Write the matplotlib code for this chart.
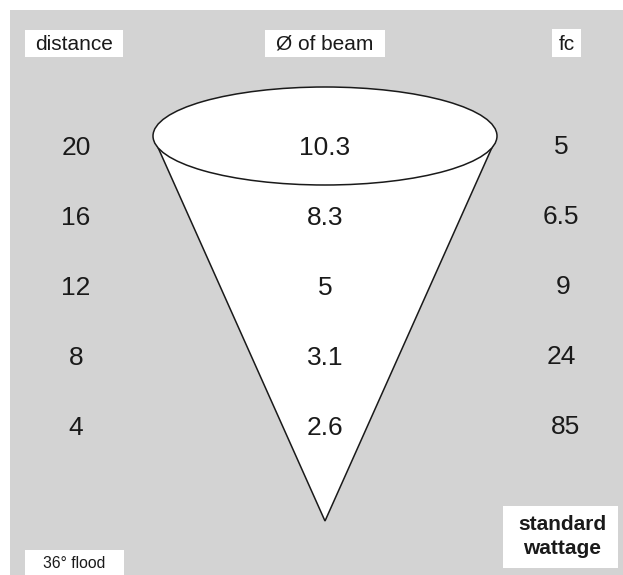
import matplotlib
matplotlib.use('Agg')
import matplotlib.pyplot as plt
from matplotlib.patches import Rectangle, Ellipse, Polygon

distance = ['20', '16', '12', '8', '4']
beam = ['10.3', '8.3', '5', '3.1', '2.6']
fc = ['5', '6.5', '9', '24', '85']
headers = ['distance', 'Ø of beam', 'fc']

plt.rcParams['font.family'] = ['Liberation Sans', 'DejaVu Sans']

W, H = 623, 575
fig = plt.figure(figsize=(W / 100, H / 100), dpi=100)
ax = fig.add_axes([0, 0, 1, 1])
ax.set_xlim(0, W)
ax.set_ylim(H, 0)
ax.axis('off')

# grey panel
ax.add_patch(Rectangle((10, 10), W - 10, H - 10, color='#d3d3d3', lw=0))

# cone + ellipse
ax.add_patch(Polygon([(156, 143), (494, 143), (325, 521)], closed=True,
                     facecolor='white', edgecolor='#1a1a1a', lw=1.1, zorder=2))
ax.add_patch(Ellipse((325, 136), 344, 98, facecolor='white',
                     edgecolor='#1a1a1a', lw=1.1, zorder=3))

# header boxes
boxes = [(25, 30, 98, 27), (265, 30, 120, 27), (552, 29, 29, 28)]
for (x, y, w, h), label in zip(boxes, headers):
    ax.add_patch(Rectangle((x, y), w, h, color='white', lw=0, zorder=4))
    ax.text(x + w / 2, y + h / 2 + 1, label, ha='center', va='center',
            fontsize=15, color='#1a1a1a', zorder=5)

# rows
row_y = [148 + 70 * i for i in range(len(distance))]
right_x = [561, 561, 563, 561, 566]
for i, y in enumerate(row_y):
    ax.text(76, y, distance[i], ha='center', va='center', fontsize=19,
            color='#1a1a1a', zorder=5)
    ax.text(325, y, beam[i], ha='center', va='center', fontsize=19,
            color='#1a1a1a', zorder=5)
    ax.text(right_x[i], y - 1, fc[i], ha='center', va='center', fontsize=19,
            color='#1a1a1a', zorder=5)

# bottom boxes
ax.add_patch(Rectangle((25, 550), 99, 25, color='white', lw=0, zorder=4))
ax.text(74, 563, '36° flood', ha='center', va='center', fontsize=11.3,
        color='#1a1a1a', zorder=5)
ax.add_patch(Rectangle((503, 506), 115, 62, color='white', lw=0, zorder=4))
ax.text(562, 525, 'standard', ha='center', va='center', fontsize=15,
        fontweight='bold', color='#1a1a1a', zorder=5)
ax.text(562, 548, 'wattage', ha='center', va='center', fontsize=15,
        fontweight='bold', color='#1a1a1a', zorder=5)

fig.savefig('out.png', dpi=100)
